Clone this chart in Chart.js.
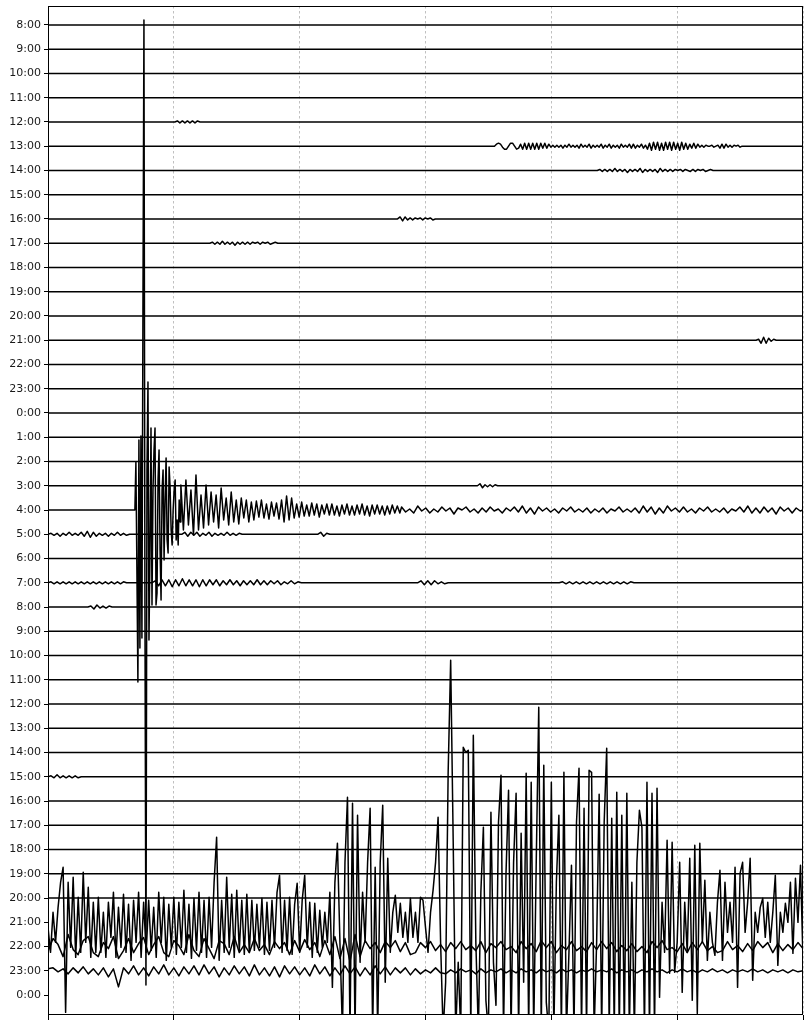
<!DOCTYPE html>
<html>
<head>
<meta charset="utf-8">
<script src="https://cdn.jsdelivr.net/npm/chart.js@4.4.1/dist/chart.umd.min.js"></script>
<style>
  html, body { margin: 0; padding: 0; background: #fff; }
  canvas { display: block; }
</style>
</head>
<body>
<canvas id="heli" width="812" height="1024"></canvas>
<script>
// one line per hour, top to bottom
const hourLabels = ['8:00','9:00','10:00','11:00','12:00','13:00','14:00','15:00','16:00','17:00',
  '18:00','19:00','20:00','21:00','22:00','23:00','0:00','1:00','2:00','3:00','4:00','5:00',
  '6:00','7:00','8:00','9:00','10:00','11:00','12:00','13:00','14:00','15:00','16:00','17:00',
  '18:00','19:00','20:00','21:00','22:00','23:00','0:00'];
const minuteTicks = [0, 10, 20, 30, 40, 50, 60];
const countsPerRow = 24.25; // trace gain: counts that span one hour line

// amplitudes (counts, up positive), sampled at a fixed step in minutes
const wiggle12h = [0,1,-1,1,-1,1,-1,1,-1,1,0];
const train13h = [0,2,3,2,-1,-3,-3,0,3,3,0,-3,
  -2,2,-3,3,-3,3,-3,3,-3,3,-3,3,-2,3,-2,2,-1,
  1,-1,1,-1,1,-2,1,-1,2,-1,1,-1,1,-2,2,-1,1,-1,2,-2,1,-1,1,-1,2,-2,1,-1,2,-2,1,-1,1,-2,2,-1,1,-1,2,-2,2,-2,1,-1,2,-2,1,
  -3,3,-4,4,-3,4,-4,3,-4,4,-3,4,-4,4,-3,3,-4,4,-3,3,-3,2,-2,3,-2,2,-1,
  1,-1,1,0,0,1,-1,0,1,-2,2,-2,2,-1,1,-1,1,0,1,-1,0,0];
const wiggle14h = [0,1,-1,1,-1,1,-1,2,-1,1,-1,1,-2,1,-1,1,-1,2,-2,1,-1,1,-1,1,-2,2,-1,1,-1,1,-1,1,0,1,-1,1,0,-1,1,-1,1,0,1,-1,0,1,0,0];
const wiggle16h = [0,2,-2,2,-1,1,-1,1,0,1,-1,1,0,1,-1,0,0];
const wiggle17h = [0,1,-1,1,-1,2,-1,1,-1,1,-2,1,-1,1,-1,1,-1,1,0,1,-1,1,0,1,-1,0,1,0];
const blip21h = [0,1,-3,3,-3,2,-1,1,0];
const blip03h = [0,2,-2,1,-1,1,-1,1,0,0];
const quakeOnset = [0,48,-60,-172,70,-138,74,-128,200,490,-100,-475,40,128,-130,-40,82,-95,20,60,
  82,-95,-83,30,60,-40,-90,20,40,-50,10,52,-30,-43,43,22,-20,-35,0,20,30,-30,-10,-35,10,-12];
const quakeCoda = [25,-20,30,-15,20,-25,35,-20,15,-18, 25,-15,18,-12,15,-18,22,-10,12,-15,
  18,-12,10,-14,12,-8,10,-12,8,-10, 9,-7,10,-8,6,-9,8,-6,7,-9, 10,-12,14,-10,12,-8,6,-7,8,-6,
  5,-6,7,-5,6,-7,5,-4,6,-5, 6,-5,4,-6,5,-4,6,-5,4,-5, 5,-4,6,-5,4,-6,5,-4,5,-4, 4,-5,4,-4,5,-3,4,-3];
const quakeTail = [3,-2,1,-3,4,-1,2,-3,1,-2, 3,-1,2,-4,2,0,3,-2,1,-3, 2,-2,3,-1,1,-3,2,-1,3,-2,
  4,-3,2,-4,3,-1,2,-2,1,-3, 2,-1,3,-2,1,-2,2,-3,1,-2, 2,-3,1,-1,3,-2,1,-2,2,-3,
  4,-2,3,-4,2,-3,4,-1,2,-2, 3,-2,1,-3,2,-1,3,-2,1,-2, 2,-3,1,-1,3,-2,4,-3,2,-3, 3,-2,2,-4,3,-1,2,-3,2,-1];
const wiggle05a = [0,1,-1,1,-2,1,-1,2,-1,1,-1,2,-2,3,-3,2,-2,1,-1,1,-2,1,-1,2,-1,1,-1,0];
const wiggle05b = [0,2,-2,2,-1,2,-2,1,-1,2,-2,1,-1,1,-1,2,-1,1,-1,1,0];
const wiggle05c = [0,2,-2,1,0];
const wiggle07a = [0,1,-1,1,-1,1,-1,1,-1,1,-1,1,-1,1,-1,1,-1,1,-1,1,-1,1,-1,1,-1,1,0];
const wiggle07b = [0,2,-3,3,-3,3,-4,3,-3,4,-3,3,-3,3,-4,3,-3,3,-2,3,-3,2,-2,3,-2,2,-3,2,-2,2,-2,3,-2,2,-2,2,-1,2,-2,1,-1,2,-1,1,0];
const wiggle07c = [0,2,-2,2,-2,2,-1,1,-1,0];
const wiggle07d = [0,1,-1,1,-1,1,-1,1,-1,1,-1,1,-1,1,-1,1,-1,1,-1,1,-1,1,0,0];
const wiggle08h = [0,1,-2,2,-1,1,-1,1,0];
const wiggle15h = [0,1,-1,2,-1,1,-1,1,-1,1,-1,0,0];
const storm21h = [-5,-30,10,-20,15,40,55,-90,40,-25, 45,-35,25,-30,50,-20,35,-35,20,-30,
  25,-30,10,-35,20,-15,30,-35,15,-25, 28,-30,18,-38,22,-20,30,-35,20,-30,
  22,-28,15,-35,30,-20,25,-38,18,-25, 25,-32,20,-25,32,-30,18,-36,24,-28,
  30,-30,22,-35,25,-25,40,85,-38,22, -30,45,-25,28,-35,32,-28,22,-32,28,
  -30,22,-28,18,-25,24,-32,20,-28,22, -25,30,47,-30,22,-28,25,-32,18,39,
  -30,22,47,-25,20,-35,19,-30,12,-25, 10,-20,30,-65,40,79,-20,-110,60,125,
  -110,119,-110,107,-40,30,-20,60,114,-110, 55,-110,60,117,-60,64,-30,10,27,-10,
  19,-15,10,-20,24,-15,10,-20,25,22, -5,-30,10,32,60,105,-20,-110,-60,150,
  262,82,-110,-40,-110,175,170,172,-110,187, -20,-110,30,95,-78,-110,110,-40,-83,100,
  147,-110,50,132,-110,60,129,-110,89,-60, 149,-110,140,-110,60,215,-110,157,-80,-110,
  140,-110,40,107,-110,150,-110,-30,57,-110, 100,154,-110,114,-110,152,150,-110,-20,128,
  -110,100,174,-110,104,-110,130,-110,107,-110, 129,-110,40,-110,60,112,95,-110,140,-110,
  129,-110,134,-75,20,-30,82,-51,80,-50, -20,60,-70,20,-30,64,-78,77,-91,79,
  -20,42,-38,10,-20,-33,20,52,-38,40, -10,20,-20,55,-65,49,60,-10,20,64,
  -58,10,-10,15,24,-15,20,-20,10,47, -43,10,-10,19,0,40,-31,44,0,57, -38];
const storm22h = [-5,8,2,-10,12,-3,-8,6,10,-6, -10,4,-2,10,-12,-4,8,-6,3,9,
  -8,2,10,-6,-10,6,1,-8,12,-4, -10,8,-2,-12,6,3,-8,10,-6,2, -6,8,-4,2,-8,5,-2,4,-8,6,
  -5,7,-3,4,-10,6,-8,10,-12,8, -15,12,-10,6,-2,4,-6,5,-1,6, -5,4,-8,-6,4,-1,5,-4,2,-5,
  4,-2,5,-3,1,-4,5,-6,3,-1, 5,-3,0,-6,5,-2,3,-5,6,-1, 5,-6,1,-3,5,-4,0,-5,4,-3,
  5,-2,4,-5,1,-4,3,-5,0,-6, 5,-1,6,-3,-1,-5,3,-6,4,-3, 5,-4,0,-6,-4,5,-3,1,-5,3,
  -4,5,-1,4,-6,3,-4,2,-3,4, -2];
const storm23h = [2,3,-1,2,-3,3,-2,4,-3,2, -4,3,-6,2,-16,3,-3,5,-4,3,
  -5,4,-3,6,-4,3,-5,4,-3,5, -4,6,-3,4,-6,3,-4,5,-3,4, -5,6,-4,3,-5,4,-6,5,-3,4,
  -4,3,-5,6,-3,4,-5,3,-4,5, -3,4,-5,3,-4,5,-3,4,-4,3, -2,3,-4,2,-3,1,-2,3,-2,-3,
  1,-2,2,-1,1,-3,2,-2,1,-1, 2,-2,1,-2,2,-1,1,-2,2,-1, 1,-2,2,-1,1,-2,1,-1,2,-1,
  1,-1,2,-2,1,-1,1,-2,1,-1, 2,-1,1,-2,1,-1,2,-1,1,-2, 1,-1,2,-1,1,-2,1,-1,1,-1,
  2,-1,1,-2,1,-1,1,-2,1,-1, 0];

// where each recorded segment sits: hour line, start minute, sample step (min)
const events = [
  {row: 4, start: 10.08, step: 0.2, values: wiggle12h},
  {row: 5, start: 35.48, step: 0.16, values: train13h},
  {row: 6, start: 43.65, step: 0.2, values: wiggle14h},
  {row: 8, start: 27.78, step: 0.2, values: wiggle16h},
  {row: 9, start: 12.86, step: 0.2, values: wiggle17h},
  {row: 13, start: 56.27, step: 0.2, values: blip21h},
  {row: 19, start: 34.13, step: 0.2, values: blip03h},
  {row: 20, start: 6.905, step: 0.08, values: quakeOnset},
  {row: 20, start: 10.56, step: 0.2, values: quakeCoda},
  {row: 20, start: 28.1, step: 0.32, values: quakeTail},
  {row: 21, start: 0, step: 0.24, values: wiggle05a},
  {row: 21, start: 10.63, step: 0.24, values: wiggle05b},
  {row: 21, start: 21.43, step: 0.24, values: wiggle05c},
  {row: 23, start: 0, step: 0.24, values: wiggle07a},
  {row: 23, start: 8.25, step: 0.27, values: wiggle07b},
  {row: 23, start: 29.37, step: 0.27, values: wiggle07c},
  {row: 23, start: 40.63, step: 0.27, values: wiggle07d},
  {row: 24, start: 3.17, step: 0.24, values: wiggle08h},
  {row: 31, start: 0, step: 0.24, values: wiggle15h},
  {row: 37, start: 0, step: 0.2, values: storm21h},
  {row: 38, start: 0, step: 0.4, values: storm22h},
  {row: 39, start: 0, step: 0.4, values: storm23h}
];

function tracePoints(row) {
  const pts = [{x: 0, y: row}];
  events.filter(e => e.row === row).sort((a, b) => a.start - b.start).forEach(e => {
    e.values.forEach((v, i) => pts.push({x: e.start + i * e.step, y: row - v / countsPerRow}));
  });
  if (pts[pts.length - 1].x < 60) pts.push({x: 60, y: row});
  return pts;
}

const datasets = [];
for (let r = 0; r < hourLabels.length - 1; r++) {
  datasets.push({
    data: tracePoints(r),
    borderColor: '#000',
    borderWidth: 1.5,
    borderJoinStyle: 'round',
    pointRadius: 0,
    fill: false,
    tension: 0
  });
}

const frame = {
  id: 'frame',
  afterDraw(chart) {
    const a = chart.chartArea, ctx = chart.ctx;
    ctx.save();
    ctx.strokeStyle = '#000';
    ctx.lineWidth = 1;
    ctx.strokeRect(a.left + 0.5, a.top + 0.5, a.right - a.left - 1, a.bottom - a.top - 1);
    ctx.restore();
  }
};

new Chart('heli', {
  type: 'line',
  data: { datasets: datasets },
  options: {
    responsive: false,
    animation: false,
    devicePixelRatio: 1,
    layout: { padding: { top: 6, right: 9, left: 0, bottom: 0 } },
    plugins: { legend: { display: false }, tooltip: { enabled: false } },
    scales: {
      x: {
        type: 'linear', min: 0, max: 60,
        afterBuildTicks: axis => { axis.ticks = minuteTicks.map(v => ({value: v})); },
        ticks: { display: false },
        grid: { color: '#b0b0b0', lineWidth: 0.8, tickColor: '#000', tickLength: 5, tickWidth: 1 },
        border: { display: false, dash: [2.5, 2.5] },
        afterFit: s => { s.height = 9; s.paddingLeft = 0; s.paddingRight = 0; }
      },
      y: {
        type: 'linear', reverse: true, min: -0.78, max: 40.82,
        afterBuildTicks: axis => { axis.ticks = hourLabels.map((l, i) => ({value: i})); },
        ticks: {
          autoSkip: false, padding: 3,
          color: '#1a1a1a',
          font: { family: 'DejaVu Sans', size: 11 },
          callback: v => hourLabels[v]
        },
        grid: { drawOnChartArea: false, tickColor: '#000', tickLength: 4, tickWidth: 1 },
        border: { display: false },
        afterFit: s => { s.width = 48; s.paddingTop = 0; s.paddingBottom = 0; }
      }
    }
  },
  plugins: [frame]
});
</script>
</body>
</html>
